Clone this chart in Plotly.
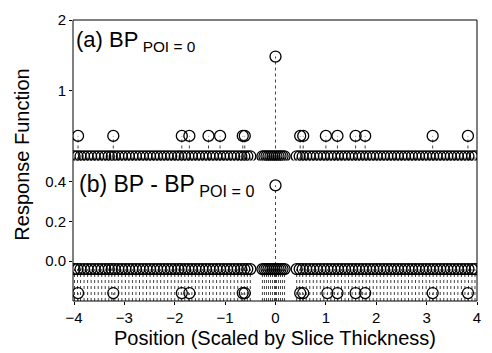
import plotly.graph_objects as go

# ---------------- data ----------------
base_x = [
    -3.99, -3.93, -3.87, -3.80, -3.73, -3.66, -3.59, -3.52, -3.45, -3.38,
    -3.31, -3.25, -3.19, -3.12, -3.05, -2.98, -2.91, -2.84, -2.77, -2.70,
    -2.63, -2.56, -2.49, -2.42, -2.35, -2.28, -2.21, -2.14, -2.07, -2.00,
    -1.93, -1.87, -1.80, -1.73, -1.66, -1.59, -1.52, -1.45, -1.38, -1.31,
    -1.24, -1.17, -1.10, -1.03, -0.96, -0.89, -0.82, -0.75, -0.68, -0.62,
    -0.56, -0.50,
    -0.26, -0.22, -0.18, -0.14, -0.10, -0.06, -0.02, 0.02, 0.06, 0.10,
    0.14, 0.18,
    0.42, 0.48, 0.54, 0.61, 0.68, 0.75, 0.82, 0.89, 0.96, 1.03,
    1.10, 1.17, 1.24, 1.31, 1.38, 1.45, 1.52, 1.59, 1.66, 1.73,
    1.80, 1.87, 1.94, 2.01, 2.08, 2.15, 2.22, 2.29, 2.36, 2.43,
    2.50, 2.57, 2.64, 2.71, 2.78, 2.85, 2.92, 2.99, 3.06, 3.13,
    3.20, 3.27, 3.34, 3.41, 3.48, 3.55, 3.62, 3.69, 3.76, 3.83,
    3.90, 3.96,
]
top_base_y = [
    0.06, 0.06, 0.06, 0.06, 0.06, 0.06, 0.06, 0.06, 0.06, 0.06,
    0.06, 0.06, 0.06, 0.06, 0.06, 0.06, 0.06, 0.06, 0.06, 0.06,
    0.06, 0.06, 0.06, 0.06, 0.06, 0.06, 0.06, 0.06, 0.06, 0.06,
    0.06, 0.06, 0.06, 0.06, 0.06, 0.06, 0.06, 0.06, 0.06, 0.06,
    0.06, 0.06, 0.06, 0.06, 0.06, 0.06, 0.06, 0.06, 0.06, 0.06,
    0.06, 0.06,
    0.06, 0.06, 0.06, 0.06, 0.06, 0.06, 0.06, 0.06, 0.06, 0.06,
    0.06, 0.06,
    0.06, 0.06, 0.06, 0.06, 0.06, 0.06, 0.06, 0.06, 0.06, 0.06,
    0.06, 0.06, 0.06, 0.06, 0.06, 0.06, 0.06, 0.06, 0.06, 0.06,
    0.06, 0.06, 0.06, 0.06, 0.06, 0.06, 0.06, 0.06, 0.06, 0.06,
    0.06, 0.06, 0.06, 0.06, 0.06, 0.06, 0.06, 0.06, 0.06, 0.06,
    0.06, 0.06, 0.06, 0.06, 0.06, 0.06, 0.06, 0.06, 0.06, 0.06,
    0.06, 0.06,
]
bottom_base_y = [
    -0.04, -0.04, -0.04, -0.04, -0.04, -0.04, -0.04, -0.04, -0.04, -0.04,
    -0.04, -0.04, -0.04, -0.04, -0.04, -0.04, -0.04, -0.04, -0.04, -0.04,
    -0.04, -0.04, -0.04, -0.04, -0.04, -0.04, -0.04, -0.04, -0.04, -0.04,
    -0.04, -0.04, -0.04, -0.04, -0.04, -0.04, -0.04, -0.04, -0.04, -0.04,
    -0.04, -0.04, -0.04, -0.04, -0.04, -0.04, -0.04, -0.04, -0.04, -0.04,
    -0.04, -0.04,
    -0.04, -0.04, -0.04, -0.04, -0.04, -0.04, -0.04, -0.04, -0.04, -0.04,
    -0.04, -0.04,
    -0.04, -0.04, -0.04, -0.04, -0.04, -0.04, -0.04, -0.04, -0.04, -0.04,
    -0.04, -0.04, -0.04, -0.04, -0.04, -0.04, -0.04, -0.04, -0.04, -0.04,
    -0.04, -0.04, -0.04, -0.04, -0.04, -0.04, -0.04, -0.04, -0.04, -0.04,
    -0.04, -0.04, -0.04, -0.04, -0.04, -0.04, -0.04, -0.04, -0.04, -0.04,
    -0.04, -0.04, -0.04, -0.04, -0.04, -0.04, -0.04, -0.04, -0.04, -0.04,
    -0.04, -0.04,
]

top_spike_x = [-3.92, -3.22, -1.86, -1.71, -1.33, -1.10, -0.65, -0.61,
               0.49, 0.55, 1.00, 1.23, 1.59, 1.78, 3.12, 3.82]
top_spike_y = [0.35, 0.35, 0.35, 0.35, 0.35, 0.35, 0.35, 0.35,
               0.35, 0.35, 0.35, 0.35, 0.35, 0.35, 0.35, 0.35]

bottom_spike_x = [-3.92, -3.22, -1.86, -1.71, -0.65, -0.61,
                  0.49, 0.55, 1.03, 1.23, 1.59, 1.78, 3.12, 3.82]
bottom_spike_y = [-0.16, -0.16, -0.16, -0.16, -0.16, -0.16,
                  -0.16, -0.16, -0.16, -0.16, -0.16, -0.16, -0.16, -0.16]

peak_x = [0.0]
top_peak_y = [1.48]
bottom_peak_y = [0.38]

x_ticks = [-4, -3, -2, -1, 0, 1, 2, 3, 4]
top_ticks = [1, 2]
bottom_ticks = [0.0, 0.2, 0.4]
bottom_ticktext = ["0.0", "0.2", "0.4"]

# ---------------- styling ----------------
X_RANGE = [-4.02, 4.0]
TOP_RANGE = [0.0, 2.0]
BOTTOM_RANGE = [-0.2, 0.505]
FONT = "Liberation Sans, Arial, Helvetica, sans-serif"


def stem_lines(xs, ys, floor):
    sx, sy = [], []
    for x, y in zip(xs, ys):
        sx += [x, x, None]
        sy += [floor, y, None]
    return sx, sy


top_x = base_x + top_spike_x + peak_x
top_y = top_base_y + top_spike_y + top_peak_y
bot_x = base_x + bottom_spike_x + peak_x
bot_y = bottom_base_y + bottom_spike_y + bottom_peak_y

fig = go.Figure()

stem_style = dict(color="#444444", width=1, dash="dot")
marker_style = dict(symbol="circle-open", size=11, color="black",
                    line=dict(width=1.3, color="black"))

sx, sy = stem_lines(top_x, top_y, TOP_RANGE[0])
fig.add_trace(go.Scatter(x=sx, y=sy, mode="lines", line=stem_style,
                         xaxis="x", yaxis="y", hoverinfo="skip"))
fig.add_trace(go.Scatter(x=top_x, y=top_y, mode="markers", marker=marker_style,
                         xaxis="x", yaxis="y"))

sx, sy = stem_lines(bot_x, bot_y, BOTTOM_RANGE[0])
fig.add_trace(go.Scatter(x=sx, y=sy, mode="lines", line=stem_style,
                         xaxis="x", yaxis="y2", hoverinfo="skip"))
fig.add_trace(go.Scatter(x=bot_x, y=bot_y, mode="markers", marker=marker_style,
                         xaxis="x", yaxis="y2"))

axis_common = dict(showgrid=False, zeroline=False, showline=False,
                   ticks="outside", ticklen=3, tickwidth=1, tickcolor="black",
                   tickfont=dict(family=FONT, size=15, color="black"))

fig.update_layout(
    width=492, height=353,
    margin=dict(l=73, r=11, t=14, b=52),
    paper_bgcolor="white", plot_bgcolor="white",
    showlegend=False,
    xaxis=dict(domain=[0, 1], anchor="y2", range=X_RANGE,
               tickvals=x_ticks, **axis_common),
    yaxis=dict(domain=[0.5, 1], anchor="x", range=TOP_RANGE,
               tickvals=top_ticks, **axis_common),
    yaxis2=dict(domain=[0, 0.5], anchor="x", range=BOTTOM_RANGE,
                tickvals=bottom_ticks, ticktext=bottom_ticktext, **axis_common),
    shapes=[dict(type="rect", xref="paper", yref="paper", x0=0, x1=1, y0=0, y1=1,
                 line=dict(color="black", width=1), layer="above")],
    annotations=[
        dict(text="(a) BP<sub> POI = 0</sub>", xref="paper", yref="paper",
             x=0.003, y=0.925, xanchor="left", yanchor="middle", showarrow=False,
             font=dict(family=FONT, size=22, color="black")),
        dict(text="(b) BP - BP<sub> POI = 0</sub>", xref="paper", yref="paper",
             x=0.01, y=0.41, xanchor="left", yanchor="middle", showarrow=False,
             font=dict(family=FONT, size=23, color="black")),
        dict(text="Response Function", xref="paper", yref="paper",
             x=-0.125, y=0.519, xanchor="center", yanchor="middle", textangle=-90,
             showarrow=False, font=dict(family=FONT, size=20, color="black")),
        dict(text="Position (Scaled by Slice Thickness)", xref="paper", yref="paper",
             x=0.5, y=-0.13, xanchor="center", yanchor="middle",
             showarrow=False, font=dict(family=FONT, size=20, color="black")),
    ],
)

fig.write_html("out.html")
